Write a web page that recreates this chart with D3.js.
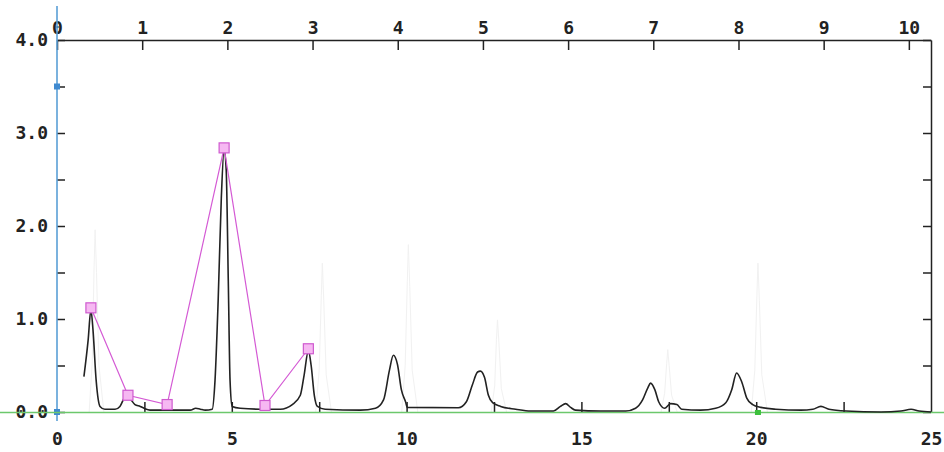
<!DOCTYPE html>
<html>
<head>
<meta charset="utf-8">
<script src="https://cdn.jsdelivr.net/npm/d3@7/dist/d3.min.js"></script>
<style>
  html, body { margin: 0; padding: 0; background: #fff; }
  svg { display: block; }
  .lbl text { font-family: "DejaVu Sans Mono", monospace; font-weight: bold; font-size: 18px; fill: #222; }
</style>
</head>
<body>
<svg id="chart" width="944" height="452"></svg>
<script>
// Retention time (min) and detector signal of the chromatogram trace
const traceTime = [0.77, 0.89, 0.97, 1.03, 1.12, 1.23, 1.37, 1.66, 1.80, 1.92, 2.00, 2.12, 2.23, 2.38, 2.49, 2.66,
  3.24, 3.81, 3.97, 4.10, 4.24, 4.44, 4.52, 4.61, 4.70, 4.78, 4.84, 4.90, 4.95, 5.01, 5.24, 5.81, 6.39, 6.73,
  6.96, 7.07, 7.19, 7.27, 7.36, 7.45, 7.67, 8.68, 9.11, 9.34, 9.51, 9.62, 9.74, 9.85, 9.97, 10.02, 11.48,
  11.71, 11.88, 12.03, 12.11, 12.23, 12.34, 12.46, 12.69, 13.12, 13.55, 14.20, 14.40, 14.55, 14.69, 14.83,
  15.55, 16.27, 16.55, 16.75, 16.90, 16.98, 17.10, 17.21, 17.38, 17.55, 17.73, 17.87, 18.41, 18.84, 19.13,
  19.30, 19.44, 19.59, 19.73, 19.90, 20.13, 20.56, 21.28, 21.62, 21.85, 22.08, 22.57, 23.57, 24.14, 24.43,
  24.66, 25.00];
const traceSignal = [0.38, 0.77, 1.10, 0.88, 0.34, 0.06, 0.03, 0.03, 0.06, 0.15, 0.19, 0.13, 0.08, 0.06, 0.04, 0.02,
  0.02, 0.02, 0.04, 0.03, 0.02, 0.03, 0.34, 1.20, 2.30, 2.82, 2.60, 1.40, 0.34, 0.06, 0.04, 0.03, 0.03, 0.08,
  0.18, 0.40, 0.66, 0.50, 0.18, 0.06, 0.03, 0.02, 0.04, 0.13, 0.45, 0.61, 0.51, 0.24, 0.11, 0.05, 0.045,
  0.11, 0.29, 0.43, 0.44, 0.37, 0.18, 0.10, 0.06, 0.03, 0.01, 0.01, 0.06, 0.09, 0.05, 0.02,
  0.01, 0.01, 0.04, 0.13, 0.26, 0.31, 0.24, 0.11, 0.04, 0.09, 0.08, 0.03, 0.02, 0.04, 0.10,
  0.24, 0.42, 0.32, 0.15, 0.08, 0.05, 0.03, 0.02, 0.03, 0.06, 0.03, 0.01, 0.00, 0.01, 0.03,
  0.01, 0.00];

// Faint second trace showing through
const ghostTime = [0.92, 1.01, 1.06, 1.09, 1.13, 1.20, 1.34, null,
  7.40, 7.50, 7.56, 7.59, 7.63, 7.70, 7.85, null,
  9.86, 9.96, 10.02, 10.05, 10.09, 10.16, 10.32, null,
  12.42, 12.52, 12.57, 12.60, 12.64, 12.71, 12.86, null,
  17.28, 17.38, 17.44, 17.47, 17.51, 17.58, 17.74, null,
  19.86, 19.96, 20.02, 20.05, 20.09, 20.16, 20.32];
const ghostSignal = [0.00, 0.55, 1.55, 1.96, 1.50, 0.50, 0.00, null,
  0.00, 0.45, 1.25, 1.60, 1.20, 0.40, 0.00, null,
  0.00, 0.50, 1.40, 1.80, 1.35, 0.45, 0.00, null,
  0.00, 0.28, 0.78, 0.99, 0.75, 0.25, 0.00, null,
  0.00, 0.20, 0.52, 0.67, 0.50, 0.18, 0.00, null,
  0.00, 0.45, 1.25, 1.60, 1.20, 0.40, 0.00];

// Peak-height profile (connected squares)
const peakTime = [0.97, 2.03, 3.15, 4.78, 5.95, 7.19];
const peakHeight = [1.12, 0.18, 0.08, 2.84, 0.07, 0.68];

// Axis ticks
const bottomTicks = [0, 2.5, 5, 7.5, 10, 12.5, 15, 17.5, 20, 22.5, 25];
const bottomLabels = [0, 5, 10, 15, 20, 25];
const topTicks = [0, 1, 2, 3, 4, 5, 6, 7, 8, 9, 10];
const yTicks = [0, 0.5, 1, 1.5, 2, 2.5, 3, 3.5, 4];
const yLabels = [0, 1, 2, 3, 4];
const blueMarks = [3.5, 0];
const greenMarks = [20.05];

const svg = d3.select("#chart");

const x = d3.scaleLinear().domain([0, 25]).range([57, 931]);
const xTop = d3.scaleLinear().domain([0, 10.26]).range([57, 931]);
const y = d3.scaleLinear().domain([0, 4]).range([412, 40]);

const ink = "#222";

// Ghost trace
svg.append("path")
  .datum(ghostTime.map((t, i) => [t, ghostSignal[i]]))
  .attr("fill", "none")
  .attr("stroke", "#f1f1f1")
  .attr("stroke-width", 1)
  .attr("d", d3.line().defined(d => d[0] !== null).x(d => x(d[0])).y(d => y(d[1])));

// Top axis
const gTop = svg.append("g").attr("class", "lbl")
  .attr("transform", `translate(0,${y(4)})`)
  .call(d3.axisTop(xTop).tickValues(topTicks).tickSizeInner(-10).tickSizeOuter(0).tickPadding(6).tickFormat(d3.format("d")));
gTop.select(".domain").attr("stroke", ink).attr("stroke-width", 1.5);
gTop.selectAll(".tick line").attr("stroke", ink).attr("stroke-width", 1.5);

// Right axis
const gRight = svg.append("g")
  .attr("transform", `translate(${x(25)},0)`)
  .call(d3.axisRight(y).tickValues(yTicks).tickSizeInner(-8).tickSizeOuter(0).tickFormat(""));
gRight.select(".domain").attr("stroke", ink).attr("stroke-width", 1.5);
gRight.selectAll(".tick line").attr("stroke", ink).attr("stroke-width", 1.5);

// Bottom axis
const gBottom = svg.append("g").attr("class", "lbl")
  .attr("transform", `translate(0,${y(0)})`)
  .call(d3.axisBottom(x).tickValues(bottomTicks).tickSizeInner(-10).tickSizeOuter(0).tickPadding(20)
    .tickFormat(d => bottomLabels.includes(d) ? d3.format("d")(d) : ""));
gBottom.select(".domain").attr("stroke", ink).attr("stroke-width", 1.2);
gBottom.selectAll(".tick line").attr("stroke", ink).attr("stroke-width", 1.5)
  .attr("opacity", d => (d === 0 || d === 25) ? 0 : 1);

// Left axis
const gLeft = svg.append("g").attr("class", "lbl")
  .attr("transform", `translate(${x(0)},0)`)
  .call(d3.axisLeft(y).tickValues(yTicks).tickSizeInner(-8).tickSizeOuter(0).tickPadding(9)
    .tickFormat(d => yLabels.includes(d) ? d3.format(".1f")(d) : ""));
gLeft.select(".domain").remove();
gLeft.selectAll(".tick line").attr("stroke", ink).attr("stroke-width", 1.5);

// Blue signal axis
svg.append("line")
  .attr("x1", x(0)).attr("x2", x(0))
  .attr("y1", 6).attr("y2", 421)
  .attr("stroke", "#5a9fd6").attr("stroke-width", 1.6);
svg.selectAll("rect.blue").data(blueMarks).join("rect")
  .attr("class", "blue")
  .attr("x", x(0) - 3).attr("y", d => y(d) - 3)
  .attr("width", 6).attr("height", 6)
  .attr("fill", "#3f8ad0");

// Green zero line
svg.append("line")
  .attr("x1", 0).attr("x2", 944)
  .attr("y1", y(0) + 0.5).attr("y2", y(0) + 0.5)
  .attr("stroke", "#6cc86c").attr("stroke-width", 1.6);
svg.selectAll("rect.green").data(greenMarks).join("rect")
  .attr("class", "green")
  .attr("x", d => x(d) - 3).attr("y", y(0) - 2)
  .attr("width", 6).attr("height", 5)
  .attr("fill", "#3cc03c");

// Chromatogram trace
svg.append("path")
  .datum(traceTime.map((t, i) => [t, traceSignal[i]]))
  .attr("fill", "none")
  .attr("stroke", ink)
  .attr("stroke-width", 1.6)
  .attr("stroke-linejoin", "round")
  .attr("d", d3.line().x(d => x(d[0])).y(d => y(d[1])).curve(d3.curveMonotoneX));

// Peak-height profile
const peaks = peakTime.map((t, i) => [t, peakHeight[i]]);
svg.append("path")
  .datum(peaks)
  .attr("fill", "none")
  .attr("stroke", "#d45ad4")
  .attr("stroke-width", 1.2)
  .attr("d", d3.line().x(d => x(d[0])).y(d => y(d[1])));
svg.selectAll("rect.peak").data(peaks).join("rect")
  .attr("class", "peak")
  .attr("x", d => x(d[0]) - 5).attr("y", d => y(d[1]) - 5)
  .attr("width", 10).attr("height", 10)
  .attr("fill", "#f6b8f2")
  .attr("stroke", "#cf5acf")
  .attr("stroke-width", 1.2);
</script>
</body>
</html>
